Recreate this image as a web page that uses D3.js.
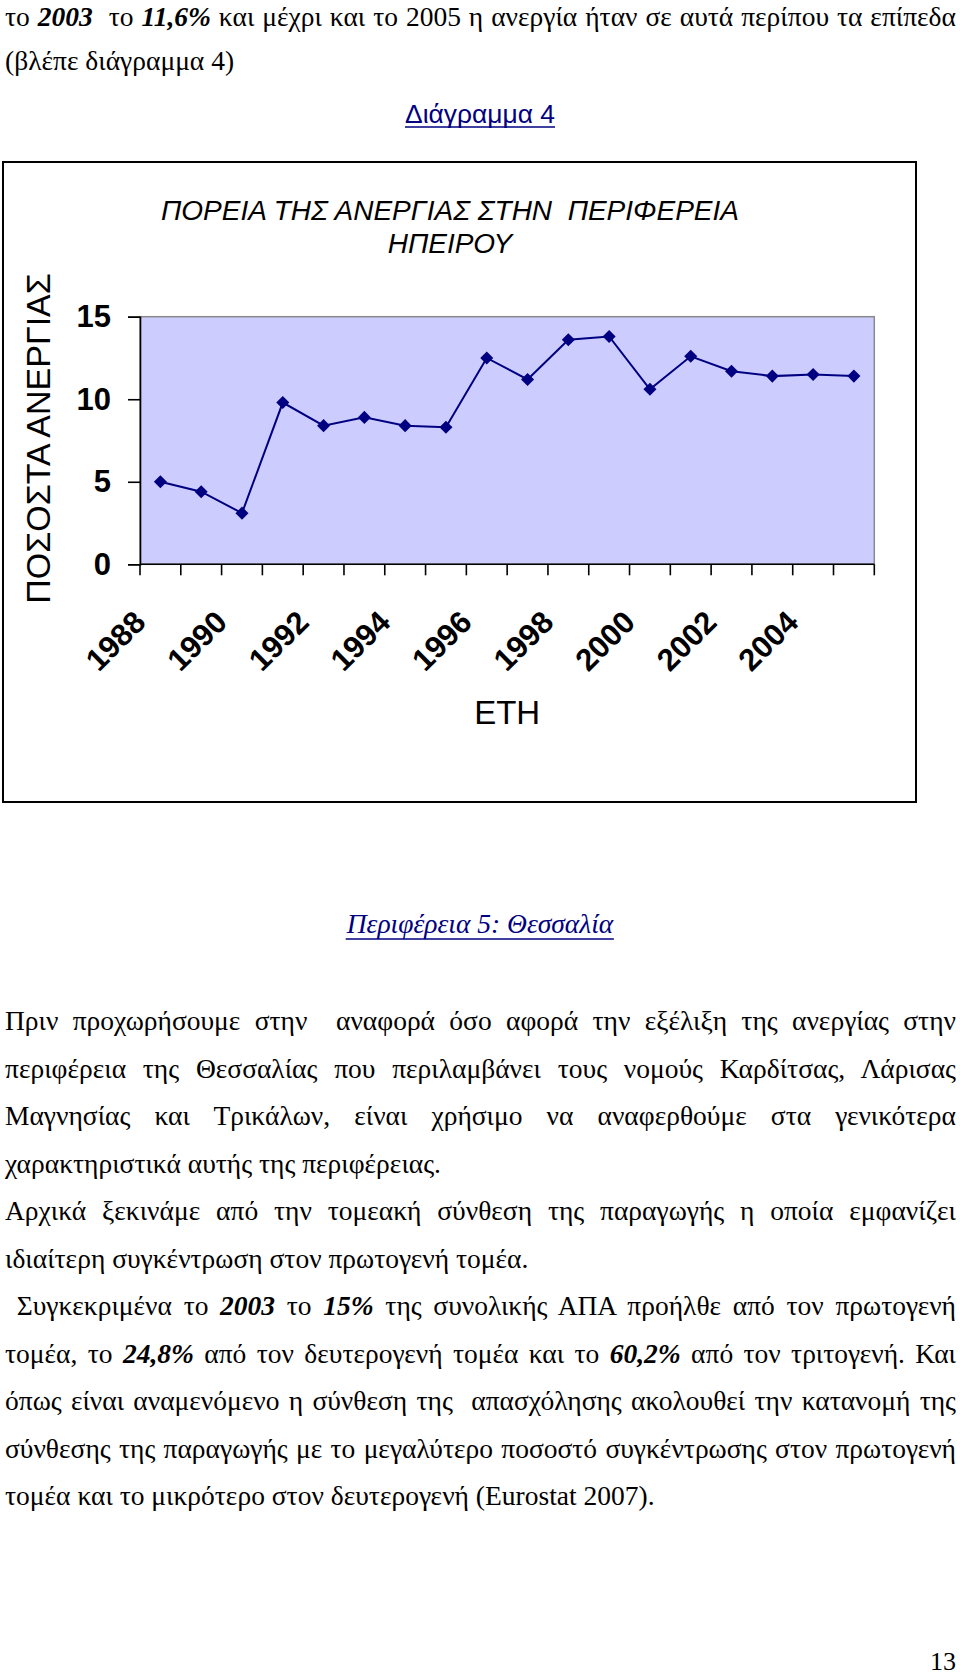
<!DOCTYPE html>
<html><head><meta charset="utf-8">
<script src="https://cdn.jsdelivr.net/npm/d3@7"></script>
<style>body{margin:0;background:#fff} svg{display:block} text{white-space:pre}</style>
</head><body>
<svg id="page" width="960" height="1678"></svg>
<script>
// ---------- data ----------
const years = [1988,1989,1990,1991,1992,1993,1994,1995,1996,1997,1998,1999,2000,2001,2002,2003,2004,2005];
const rates = [5.0,4.4,3.1,9.8,8.4,8.9,8.4,8.3,12.5,11.2,13.6,13.8,10.6,12.6,11.7,11.4,11.5,11.4];
const yTicks = [0,5,10,15];
const xLabelYears = [1988,1990,1992,1994,1996,1998,2000,2002,2004];
const chartTitle = ["ΠΟΡΕΙΑ ΤΗΣ ΑΝΕΡΓΙΑΣ ΣΤΗΝ  ΠΕΡΙΦΕΡΕΙΑ","ΗΠΕΙΡΟΥ"];
const yTitle = "ΠΟΣΟΣΤΑ ΑΝΕΡΓΙΑΣ";
const xTitle = "ΕΤΗ";
const figCaption = "Διάγραμμα 4";
const sectionHeading = "Περιφέρεια 5: Θεσσαλία";
const pageNumber = "13";
// text lines; *...* marks bold italic; j = justified
const topLines = [
  {t:"το *2003*  το *11,6%* και μέχρι και το 2005 η ανεργία ήταν σε αυτά περίπου τα επίπεδα", j:true},
  {t:"(βλέπε διάγραμμα 4)", j:false}
];
const bodyLines = [
  {t:"Πριν προχωρήσουμε στην  αναφορά όσο αφορά την εξέλιξη της ανεργίας στην", j:true},
  {t:"περιφέρεια της Θεσσαλίας που περιλαμβάνει τους νομούς Καρδίτσας, Λάρισας", j:true},
  {t:"Μαγνησίας και Τρικάλων, είναι χρήσιμο να αναφερθούμε στα γενικότερα", j:true},
  {t:"χαρακτηριστικά αυτής της περιφέρειας.", j:false},
  {t:"Αρχικά ξεκινάμε από την τομεακή σύνθεση της παραγωγής η οποία εμφανίζει", j:true},
  {t:"ιδιαίτερη συγκέντρωση στον πρωτογενή τομέα.", j:false},
  {t:" Συγκεκριμένα το *2003* το *15%* της συνολικής ΑΠΑ προήλθε από τον πρωτογενή", j:true},
  {t:"τομέα, το *24,8%* από τον δευτερογενή τομέα και το *60,2%* από τον τριτογενή. Και", j:true},
  {t:"όπως είναι αναμενόμενο η σύνθεση της  απασχόλησης ακολουθεί την κατανομή της", j:true},
  {t:"σύνθεσης της παραγωγής με το μεγαλύτερο ποσοστό συγκέντρωσης στον πρωτογενή", j:true},
  {t:"τομέα και το μικρότερο στον δευτερογενή (Eurostat 2007).", j:false}
];

// ---------- layout ----------
const svg = d3.select('#page');
const SERIF = "'Liberation Serif','Times New Roman',serif";
const SANS = "'Liberation Sans',Arial,sans-serif";
const NAVY = "#000080";
const FS = 27.5;
const textLeft = 5, textRight = 956;

function drawTextLine(y, line) {
  const t = svg.append('text').attr('x', textLeft).attr('y', y)
    .attr('font-family', SERIF).attr('font-size', FS).attr('fill', '#000');
  line.t.split('*').forEach((s, i) => {
    if (!s) return;
    const ts = t.append('tspan').text(s);
    if (i % 2 === 1) ts.attr('font-weight', 'bold').attr('font-style', 'italic');
  });
  if (line.j) {
    const nat = t.node().getComputedTextLength();
    const nSp = line.t.split(' ').length - 1;
    if (nSp > 0) t.style('word-spacing', ((textRight - textLeft - nat) / nSp) + 'px');
  }
}
topLines.forEach((l, i) => drawTextLine(26 + i * 44, l));
bodyLines.forEach((l, i) => drawTextLine(1030 + i * 47.5, l));

// caption "Διάγραμμα 4"
const cap = svg.append('text').attr('x', 480).attr('y', 123).attr('text-anchor', 'middle')
  .attr('font-family', SANS).attr('font-size', 26).attr('fill', NAVY)
  .attr('textLength', 150).attr('lengthAdjust', 'spacingAndGlyphs').text(figCaption);
{ const b = cap.node().getBBox();
  svg.append('line').attr('x1', b.x).attr('x2', b.x + b.width).attr('y1', 127).attr('y2', 127)
    .attr('stroke', NAVY).attr('stroke-width', 1.6); }

// section heading
const sec = svg.append('text').attr('x', 480).attr('y', 933).attr('text-anchor', 'middle')
  .attr('font-family', SERIF).attr('font-size', 27.5).attr('font-style', 'italic').attr('fill', NAVY)
  .text(sectionHeading);
{ const b = sec.node().getBBox();
  svg.append('line').attr('x1', b.x).attr('x2', b.x + b.width).attr('y1', 939).attr('y2', 939)
    .attr('stroke', NAVY).attr('stroke-width', 1.4); }

// page number
svg.append('text').attr('x', 956).attr('y', 1670).attr('text-anchor', 'end')
  .attr('font-family', SERIF).attr('font-size', 26).text(pageNumber);

// ---------- chart ----------
const frame = {x: 3, y: 162, w: 913, h: 640};
svg.append('rect').attr('x', frame.x).attr('y', frame.y).attr('width', frame.w).attr('height', frame.h)
  .attr('fill', '#fff').attr('stroke', '#000').attr('stroke-width', 2);

const P = {left: 140, right: 874.3, top: 316.7, bottom: 564.3};
const x = d3.scaleBand().domain(years).range([P.left, P.right]).padding(0);
const y = d3.scaleLinear().domain([0, 15]).range([P.bottom, P.top]);
const bw = x.bandwidth();

svg.append('rect').attr('x', P.left).attr('y', P.top).attr('width', P.right - P.left).attr('height', P.bottom - P.top)
  .attr('fill', '#ccccff').attr('stroke', '#8a8a8a').attr('stroke-width', 1.5);

// y axis
const yAx = svg.append('g').attr('transform', `translate(${P.left},0)`)
  .call(d3.axisLeft(y).tickValues(yTicks).tickSize(12).tickPadding(17).tickFormat(d3.format('d')));
yAx.select('.domain').attr('stroke', '#000').attr('stroke-width', 1.6);
yAx.selectAll('.tick line').attr('stroke', '#000').attr('stroke-width', 1.6);
yAx.selectAll('.tick text').attr('font-family', SANS).attr('font-size', 31).attr('font-weight', 'bold').attr('fill', '#000');

// x axis (ticks between categories)
const xAx = svg.append('g');
xAx.append('line').attr('x1', P.left).attr('x2', P.right).attr('y1', P.bottom).attr('y2', P.bottom)
  .attr('stroke', '#000').attr('stroke-width', 1.6);
const bounds = years.map(d => x(d)).concat([x(years[years.length - 1]) + bw]);
xAx.selectAll('line.tk').data(bounds).join('line').attr('class', 'tk')
  .attr('x1', d => d).attr('x2', d => d).attr('y1', P.bottom).attr('y2', P.bottom + 11)
  .attr('stroke', '#000').attr('stroke-width', 1.6);
xAx.selectAll('text.xl').data(xLabelYears).join('text').attr('class', 'xl')
  .attr('transform', d => `translate(${x(d) + bw / 2 - 13},624) rotate(-45)`)
  .attr('text-anchor', 'end').attr('font-family', SANS).attr('font-size', 31).attr('font-weight', 'bold')
  .text(d => d);

// titles
chartTitle.forEach((s, i) => {
  svg.append('text').attr('x', 450).attr('y', 220 + i * 33).attr('text-anchor', 'middle')
    .attr('font-family', SANS).attr('font-size', 28).attr('font-style', 'italic').text(s);
});
svg.append('text').attr('transform', `translate(50,${(P.top + P.bottom) / 2 - 2}) rotate(-90)`)
  .attr('text-anchor', 'middle').attr('font-family', SANS).attr('font-size', 34).text(yTitle);
svg.append('text').attr('x', (P.left + P.right) / 2).attr('y', 724).attr('text-anchor', 'middle')
  .attr('font-family', SANS).attr('font-size', 33).text(xTitle);

// series
const pts = years.map((yr, i) => ({yr, v: rates[i]}));
svg.append('path').datum(pts)
  .attr('d', d3.line().x(d => x(d.yr) + bw / 2).y(d => y(d.v)))
  .attr('fill', 'none').attr('stroke', NAVY).attr('stroke-width', 2);
svg.selectAll('path.mk').data(pts).join('path').attr('class', 'mk')
  .attr('d', d3.symbol(d3.symbolSquare, 85)())
  .attr('transform', d => `translate(${x(d.yr) + bw / 2},${y(d.v)}) rotate(45)`)
  .attr('fill', NAVY);
</script>
</body></html>
